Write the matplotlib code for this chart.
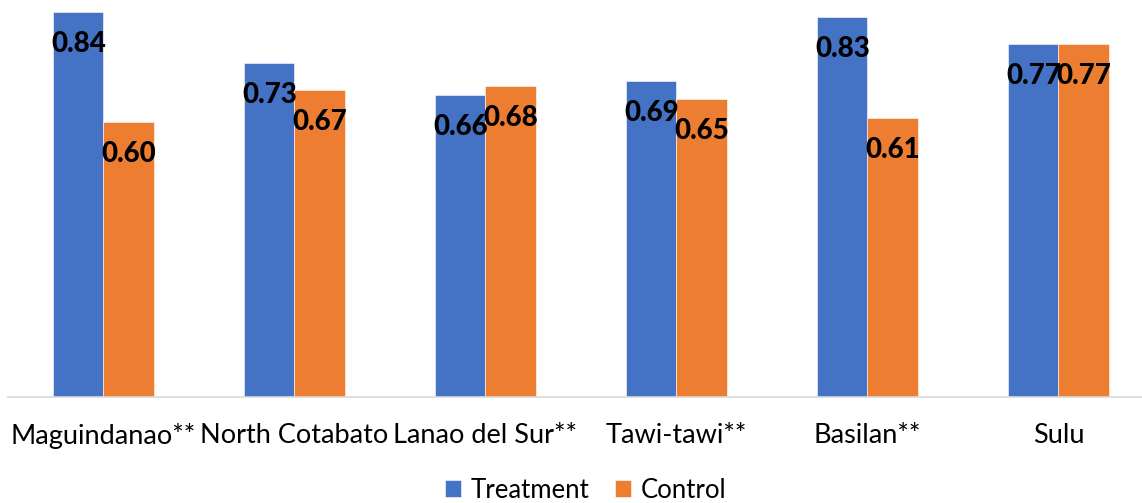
import matplotlib
matplotlib.use('Agg')
import matplotlib.pyplot as plt
import numpy as np

plt.rcParams['font.family'] = ['Lato', 'DejaVu Sans']

regions = ['Maguindanao**', 'North Cotabato', 'Lanao del Sur**', 'Tawi-tawi**', 'Basilan**', 'Sulu']
treatment = [0.84, 0.73, 0.66, 0.69, 0.83, 0.77]
control = [0.60, 0.67, 0.68, 0.65, 0.61, 0.77]

BLUE = '#4472C4'
ORANGE = '#ED7D31'

fig = plt.figure(figsize=(11.42, 5.03), dpi=100)
# plot area runs a little past the right and top edges of the canvas
ax = fig.add_axes([8 / 1142, 106 / 503, 1146 / 1142, 0.9 * 458 / 503])

x = np.arange(len(regions))
w = 0.262
b1 = ax.bar(x - w / 2, treatment, w, color=BLUE, edgecolor='white', linewidth=0.4, label='Treatment')
b2 = ax.bar(x + w / 2, control, w, color=ORANGE, edgecolor='white', linewidth=0.4, label='Control')

# value labels sit just inside the top of each bar
for bars, vals in ((b1, treatment), (b2, control)):
    for rect, v in zip(bars, vals):
        ax.annotate(f'{v:.2f}', (rect.get_x() + rect.get_width() / 2, v),
                    xytext=(0, -23), textcoords='offset points',
                    ha='center', va='center', fontsize=20, fontweight='black', color='black')

ax.set_xlim(-0.5, 5.5)
ax.set_ylim(0, 0.9)
ax.set_xticks(x)
ax.set_xticklabels(regions, fontsize=19.5, color='black')
ax.tick_params(axis='x', length=0, pad=19)
ax.set_yticks([])
for s in ('top', 'right', 'left'):
    ax.spines[s].set_visible(False)
ax.spines['bottom'].set_color('#D9D9D9')
ax.spines['bottom'].set_linewidth(1.2)

fig.legend(handles=[b1, b2], labels=['Treatment', 'Control'], loc='center',
           bbox_to_anchor=(586 / 1142, 1 - 490 / 503), ncol=2, frameon=False,
           fontsize=18.5, handlelength=0.6, handleheight=0.6, handletextpad=0.4,
           columnspacing=1.0)

fig.savefig('out.png', dpi=100)
